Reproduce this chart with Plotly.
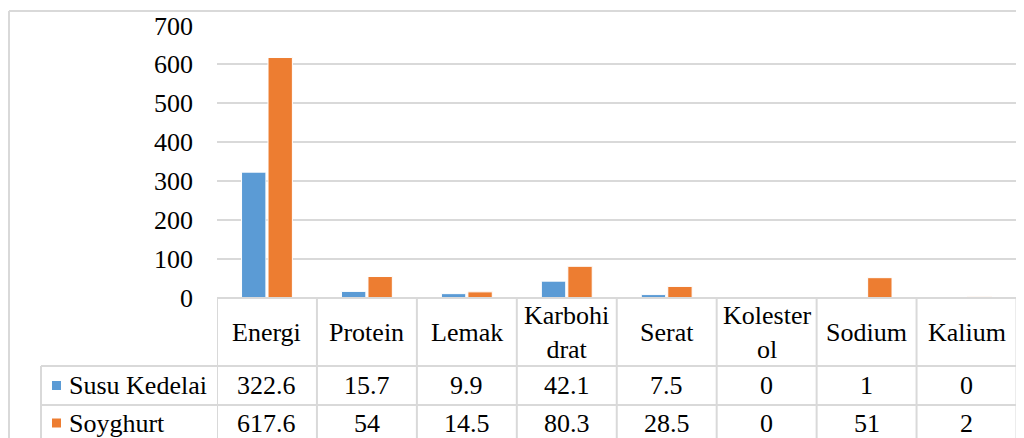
import plotly.graph_objects as go

# ---- data ----
categories = ["Energi", "Protein", "Lemak", "Karbohidrat", "Serat", "Kolesterol", "Sodium", "Kalium"]
header_labels = ["Energi", "Protein", "Lemak", "Karbohi<br>drat", "Serat", "Kolester<br>ol", "Sodium", "Kalium"]
series_names = ["Susu Kedelai", "Soyghurt"]
susu_kedelai = [322.6, 15.7, 9.9, 42.1, 7.5, 0, 1, 0]
soyghurt = [617.6, 54, 14.5, 80.3, 28.5, 0, 51, 2]
y_ticks = [0, 100, 200, 300, 400, 500, 600, 700]

colors = ["#5B9BD5", "#ED7D31"]
series_values = [susu_kedelai, soyghurt]

W, H = 1024, 438
OFF = 8  # page body margin offset
FONT = "Liberation Serif, Times New Roman, serif"
FS = 26
LINE = "#d9d9d9"


def px(x):
    return (x - OFF) / W


def py(y):
    return 1 - (y - OFF) / H


fig = go.Figure()
for name, vals, col in zip(series_names, series_values, colors):
    fig.add_trace(go.Bar(
        x=categories, y=vals, name=name,
        marker=dict(color=col, line=dict(color="white", width=1)),
    ))

plot_left, plot_right = 217, 1016.5
y_zero, y_top = 297.5, 25.5
row_top, row1, row2 = 298, 366, 405
legend_left = 41
bottom = 460

shapes = []
# outer chart border (left and top)
shapes.append(dict(type="line", xref="paper", yref="paper", x0=px(9), x1=px(9), y0=py(11), y1=py(bottom),
                   line=dict(color=LINE, width=2)))
shapes.append(dict(type="line", xref="paper", yref="paper", x0=px(9), x1=px(1040), y0=py(11), y1=py(11),
                   line=dict(color=LINE, width=2)))
# table horizontal lines
shapes.append(dict(type="line", xref="paper", yref="paper", x0=px(plot_left), x1=px(plot_right),
                   y0=py(row_top), y1=py(row_top), line=dict(color=LINE, width=2)))
for yy in (row1, row2):
    shapes.append(dict(type="line", xref="paper", yref="paper", x0=px(legend_left), x1=px(plot_right),
                       y0=py(yy), y1=py(yy), line=dict(color=LINE, width=2)))
# table vertical lines (category boundaries)
for i in range(len(categories) + 1):
    shapes.append(dict(type="line", xref="x", yref="paper", x0=i - 0.5, x1=i - 0.5,
                       y0=py(row_top), y1=py(bottom), line=dict(color=LINE, width=2)))
shapes.append(dict(type="line", xref="paper", yref="paper", x0=px(legend_left), x1=px(legend_left),
                   y0=py(row1), y1=py(bottom), line=dict(color=LINE, width=2)))

annotations = []
# header labels
for i, lab in enumerate(header_labels):
    annotations.append(dict(xref="x", yref="paper", x=i, y=py((row_top + row1) / 2), text=lab,
                            showarrow=False, xanchor="center", yanchor="middle",
                            font=dict(family=FONT, size=FS, color="black")))
# data rows
row_centers = [(row1 + row2) / 2, 423]
for r, (name, vals, col) in enumerate(zip(series_names, series_values, colors)):
    yc = row_centers[r]
    shapes.append(dict(type="rect", xref="paper", yref="paper", x0=px(52), x1=px(61),
                       y0=py(yc - 4.5), y1=py(yc + 4.5), fillcolor=col, line=dict(width=0)))
    annotations.append(dict(xref="paper", yref="paper", x=px(67), y=py(yc), text=name, showarrow=False,
                            xanchor="left", yanchor="middle",
                            font=dict(family=FONT, size=FS, color="black")))
    for i, v in enumerate(vals):
        annotations.append(dict(xref="x", yref="paper", x=i, y=py(yc), text=f"{v:g}", showarrow=False,
                                xanchor="center", yanchor="middle",
                                font=dict(family=FONT, size=FS, color="black")))

fig.update_layout(
    template="none",
    width=W, height=H, autosize=False,
    margin=dict(l=0, r=0, t=0, b=0, pad=0),
    paper_bgcolor="white", plot_bgcolor="white",
    showlegend=False,
    font=dict(family=FONT, size=FS, color="black"),
    barmode="group", bargap=0.47, bargroupgap=0.08,
    xaxis=dict(domain=[px(plot_left), px(plot_right)], range=[-0.5, len(categories) - 0.5],
               automargin=False,
               showticklabels=False, showgrid=False, zeroline=False, showline=False, ticks=""),
    yaxis=dict(domain=[py(y_zero), py(y_top)], range=[0, 700], tickvals=y_ticks,
               automargin=False,
               ticktext=[str(t) for t in y_ticks], ticks="", ticklabelstandoff=23,
               tickfont=dict(family=FONT, size=FS, color="black"),
               showgrid=True, gridcolor=LINE, gridwidth=2, zeroline=False, showline=False),
    shapes=shapes, annotations=annotations,
)

fig.write_html("out.html")
